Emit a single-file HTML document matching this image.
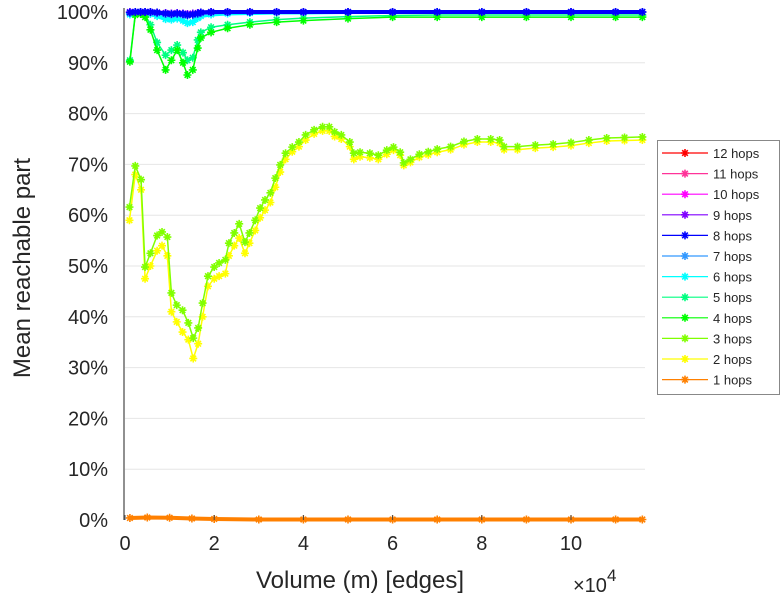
<!DOCTYPE html>
<html><head><meta charset="utf-8"><style>
html,body{margin:0;padding:0;background:#fff;}
svg{display:block;font-family:"Liberation Sans",sans-serif;}
</style></head><body>
<svg id="chart" width="781" height="600" viewBox="0 0 781 600" xmlns="http://www.w3.org/2000/svg">
<g id="grid"></g>
<g id="series"></g>
<g id="axes"></g>
<text x="0" y="0" transform="translate(30,268) rotate(-90)" text-anchor="middle" font-size="24" fill="#262626">Mean reachable part</text>
<text x="360" y="588" text-anchor="middle" font-size="24" fill="#262626">Volume (m) [edges]</text>
<text x="573" y="592" font-size="20" fill="#262626">×10<tspan dy="-11" font-size="17">4</tspan></text>
<g id="legend"></g>
</svg>
<script>
const xTicks=[0,2,4,6,8,10];
const yTicks=[0,10,20,30,40,50,60,70,80,90,100];
const seriesNames=["1 hops","2 hops","3 hops","4 hops","5 hops","6 hops","7 hops","8 hops","9 hops","10 hops","11 hops","12 hops"];
const seriesColors=["#ff8000","#ffff00","#80ff00","#00ff00","#00ff80","#00ffff","#3399ff","#0000ff","#8000ff","#ff00ff","#ff3399","#ff0000"];
const xLow=[0.1,0.23,0.36,0.45,0.57,0.72,0.83,0.95,1.04,1.16,1.29,1.42,1.53,1.64,1.74,1.86,2.0,2.11,2.25,2.33,2.45,2.56,2.69,2.79,2.92,3.03,3.14,3.26,3.37,3.48,3.6,3.75,3.9,4.05,4.24,4.43,4.58,4.7,4.85,5.04,5.13,5.27,5.49,5.68,5.87,6.02,6.17,6.25,6.4,6.6,6.8,7.0,7.3,7.6,7.9,8.2,8.4,8.5,8.8,9.2,9.6,10.0,10.4,10.8,11.2,11.6];
const hop3=[61.6,69.7,67,49.8,52.5,56,56.7,55.7,44.7,42.3,41.3,38.8,35.8,37.8,42.7,48,49.8,50.6,51.2,54.5,56.5,58.3,54.7,56.5,59,61.4,63,64.4,67.3,69.9,72.2,73.4,74.4,75.8,76.8,77.4,77.4,76.4,75.8,74.4,72.2,72.4,72.2,71.8,72.8,73.4,72.4,70.3,71,72,72.5,73,73.5,74.5,75,75,74.8,73.5,73.5,73.8,74,74.3,74.8,75.2,75.3,75.4];
const hop2=[59,68,65,47.5,50,53,54,52,41,39,37,35.5,31.8,34.7,40,46,47.5,48,48.5,52,54,55.5,52.5,54.5,57,59.5,61,62.5,65.5,68.5,71,72.5,73.5,74.8,76,76.6,76.6,75.5,75,73.5,71,71.5,71.3,71,72,72.8,71.8,69.8,70.4,71.4,71.9,72.4,72.9,73.9,74.4,74.4,74.2,72.9,72.9,73.2,73.4,73.7,74.2,74.6,74.7,74.8];
const xHigh=[0.11,0.23,0.35,0.45,0.57,0.72,0.91,1.04,1.17,1.3,1.4,1.52,1.63,1.7,1.93,2.3,2.8,3.4,4,5,6,7,8,9,10,11,11.6];
const hop4=[90.2,99.4,99.6,99,96.5,92.5,88.6,90.5,92.5,90,87.6,88.6,92.9,94.9,96,96.8,97.5,98,98.3,98.7,99,99,99,99,99,99,99];
const hop5=[90.5,99.6,99.8,99.5,97.5,94,91.5,92.5,93.5,92,90.5,91,94.5,96,97,97.5,98,98.5,98.8,99.1,99.3,99.4,99.4,99.4,99.4,99.4,99.4];
const hop6=[99.5,99.9,100,99.9,99.6,99.2,98.6,98.5,98.7,98.3,97.8,98,98.8,99.2,99.5,99.7,99.8,99.9,99.9,100,100,100,100,100,100,100,100];
const hop7=[99.8,100,100,100,99.9,99.8,99.6,99.5,99.6,99.4,99.3,99.4,99.6,99.8,99.9,100,100,100,100,100,100,100,100,100,100,100,100];
const hop8=[99.9,100,100,100,100,99.9,99.7,99.6,99.7,99.6,99.4,99.5,99.7,99.9,100,100,100,100,100,100,100,100,100,100,100,100,100];
const hop9=[100,100,100,100,100,99.9,99.8,99.7,99.8,99.7,99.6,99.7,99.8,99.9,100,100,100,100,100,100,100,100,100,100,100,100,100];
const hop10=[100,100,100,100,100,100,100,100,100,100,100,100,100,100,100,100,100,100,100,100,100,100,100,100,100,100,100];
const hop11=[100,100,100,100,100,100,100,100,100,100,100,100,100,100,100,100,100,100,100,100,100,100,100,100,100,100,100];
const hop12=[100,100,100,100,100,100,100,100,100,100,100,100,100,100,100,100,100,100,100,100,100,100,100,100,100,100,100];
const xHop1=[0.11,0.5,1,1.5,2,3,4,5,6,7,8,9,10,11,11.6];
const hop1=[0.4,0.5,0.45,0.3,0.2,0.1,0.1,0.1,0.1,0.1,0.1,0.1,0.1,0.1,0.1];

const NS="http://www.w3.org/2000/svg";
const X0=125,XS=44.6,Y0=520,YS=5.08,XR=645;
function sx(v){return X0+v*XS;}
function sy(v){return Y0-v*YS;}
function mk(tag,attrs,parent){const e=document.createElementNS(NS,tag);for(const k in attrs)e.setAttribute(k,attrs[k]);parent.appendChild(e);return e;}
const grid=document.getElementById('grid'),axes=document.getElementById('axes'),ser=document.getElementById('series'),leg=document.getElementById('legend');
yTicks.forEach(t=>{
  if(t>0){const g=mk('line',{x1:X0,x2:XR,y1:sy(t),y2:sy(t),stroke:'#e6e6e6','stroke-width':1},grid);
  
  }
  const l=mk('text',{x:108,y:sy(t)+7,'text-anchor':'end','font-size':20,fill:'#262626'},axes);l.textContent=t+'%';
  
  
});
xTicks.forEach(t=>{
  const tk=mk('line',{x1:sx(t),x2:sx(t),y1:Y0,y2:Y0-5,stroke:'#444','stroke-width':1},axes);
  
  
  const l=mk('text',{x:sx(t),y:Y0+30,'text-anchor':'middle','font-size':20,fill:'#262626'},axes);l.textContent=t;
  
  
});
const ax=mk('line',{x1:X0-1,x2:X0-1,y1:8,y2:Y0,stroke:'#555','stroke-width':1.3},axes);


function star(x,y,c,p){const r=4;return mk('path',{d:`M${x-r},${y}H${x+r}M${x},${y-r}V${y+r}M${x-r*0.7},${y-r*0.7}L${x+r*0.7},${y+r*0.7}M${x-r*0.7},${y+r*0.7}L${x+r*0.7},${y-r*0.7}`,stroke:c,'stroke-width':1.6,fill:'none'},p);}
const data=[[xHop1,hop1],[xLow,hop2],[xLow,hop3],[xHigh,hop4],[xHigh,hop5],[xHigh,hop6],[xHigh,hop7],[xHigh,hop8],[xHigh,hop9],[xHigh,hop10],[xHigh,hop11],[xHigh,hop12]];
const order=[11,10,9,0,1,2,5,6,4,3,8,7];
order.forEach(i=>{
  const [xs,ys]=data[i];const c=seriesColors[i];
  const g=mk('g',{},ser);
  
  
  mk('polyline',{points:xs.map((x,j)=>sx(x)+','+sy(ys[j])).join(' '),fill:'none',stroke:c,'stroke-width':(i>=9)?1:((i==0||i>=5)?4:1.5),'stroke-linejoin':'round'},g);
  if(i<9) xs.forEach((x,j)=>{const m=star(sx(x),sy(ys[j]),c,g);
    
    });
});
const box=mk('rect',{x:657.5,y:140.5,width:122,height:254,fill:'#fff',stroke:'#888','stroke-width':1},leg);


for(let k=0;k<12;k++){
  const i=11-k,y=153+k*20.6;
  const g=mk('g',{},leg);
  
  
  mk('line',{x1:662,x2:708,y1:y,y2:y,stroke:seriesColors[i],'stroke-width':1.2},g);
  star(685,y,seriesColors[i],g);
  const t=mk('text',{x:713,y:y+5,'font-size':13,fill:'#262626'},g);t.textContent=seriesNames[i];
}
</script>
</body></html>
